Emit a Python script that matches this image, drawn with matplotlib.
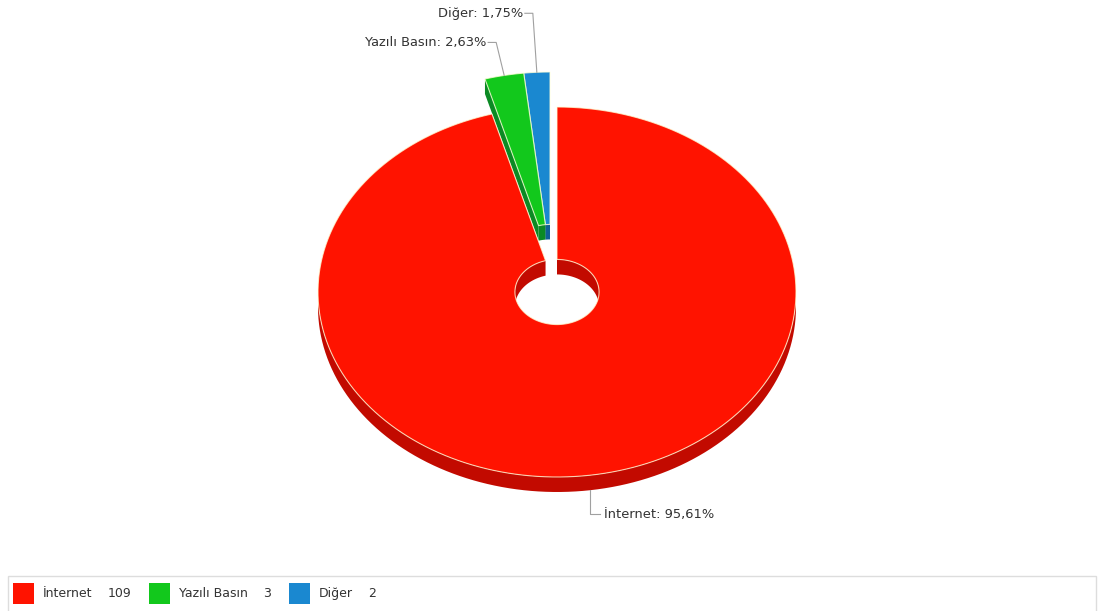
import numpy as np
import matplotlib
matplotlib.use("Agg")
import matplotlib.pyplot as plt
from matplotlib.patches import Polygon, Rectangle

# ---- data ----
categories = ['İnternet', 'Yazılı Basın', 'Diğer']
values = [109, 3, 2]
exploded = [False, True, True]
top_colors = ['#ff1300', '#12c81c', '#1a88d0']
side_colors = ['#c20a00', '#0b8a24', '#0f5f96']

# ---- style / geometry ----
W, H = 1104, 611
CX, CY = 557, 292
RX, RY = 239, 185
DEPTH = 15
INNER = 0.176
EXP_OFF = (-7, -35)

fig = plt.figure(figsize=(W / 100, H / 100), dpi=100)
ax = fig.add_axes([0, 0, 1, 1])
ax.set_xlim(0, W)
ax.set_ylim(H, 0)
ax.axis('off')

total = float(sum(values))
fracs = [v / total for v in values]


def pts(th_deg, r, off, dz=0.0):
    th = np.radians(th_deg)
    x = CX + off[0] + RX * r * np.sin(th)
    y = CY + off[1] - RY * r * np.cos(th) + dz
    return np.column_stack([np.atleast_1d(x), np.atleast_1d(y)])


def arc(a, b, r, off, dz=0.0, n=200):
    th = np.linspace(a, b, max(2, int(n * abs(b - a) / 360) + 2))
    return pts(th, r, off, dz)


def draw_slice(a, b, color, side, off):
    segs_back = []
    segs_front = []
    for lo, hi in [(-90, 90), (270, 450)]:
        s, e = max(a, lo), min(b, hi)
        if e > s:
            segs_back.append((s, e))
    for lo, hi in [(90, 270), (450, 630)]:
        s, e = max(a, lo), min(b, hi)
        if e > s:
            segs_front.append((s, e))
    # inner wall (back half of hole)
    for s, e in segs_back:
        top = arc(s, e, INNER, off)
        bot = arc(s, e, INNER, off, DEPTH)[::-1]
        ax.add_patch(Polygon(np.vstack([top, bot]), closed=True,
                             facecolor=side, edgecolor='none', zorder=1))
    # radial side faces that face the viewer
    if np.sin(np.radians(a)) < 0:
        p = np.vstack([pts(a, INNER, off), pts(a, 1, off),
                       pts(a, 1, off, DEPTH), pts(a, INNER, off, DEPTH)])
        ax.add_patch(Polygon(p, closed=True, facecolor=side,
                             edgecolor='none', zorder=1))
    if np.sin(np.radians(b)) > 0:
        p = np.vstack([pts(b, INNER, off), pts(b, 1, off),
                       pts(b, 1, off, DEPTH), pts(b, INNER, off, DEPTH)])
        ax.add_patch(Polygon(p, closed=True, facecolor=side,
                             edgecolor='none', zorder=1))
    # outer rim (front half)
    for s, e in segs_front:
        top = arc(s, e, 1, off)
        bot = arc(s, e, 1, off, DEPTH)[::-1]
        ax.add_patch(Polygon(np.vstack([top, bot]), closed=True,
                             facecolor=side, edgecolor='none', zorder=1))
    # top face
    outer = arc(a, b, 1, off)
    inner = arc(a, b, INNER, off)[::-1]
    ax.add_patch(Polygon(np.vstack([outer, inner]), closed=True,
                         facecolor=color, edgecolor=(1, 1, 0.85, 0.75),
                         linewidth=0.8, zorder=1))


# angles clockwise from 12 o'clock
starts = np.concatenate([[0], np.cumsum(fracs)[:-1]]) * 360
ends = np.cumsum(fracs) * 360

order = list(range(len(values)))[::-1]  # exploded (back) slices first
for i in order:
    off = EXP_OFF if exploded[i] else (0, 0)
    draw_slice(starts[i], ends[i], top_colors[i], side_colors[i], off)

# ---- labels ----
label_col = '#333333'
line_col = '#a0a0a0'
fs = 9.4
for i in range(len(values)):
    mid = (starts[i] + ends[i]) / 2
    off = EXP_OFF if exploded[i] else (0, 0)
    pct = f"{fracs[i] * 100:.2f}".replace('.', ',')
    txt = f"{categories[i]}: {pct}%"
    if np.cos(np.radians(mid)) < 0:
        ax_, ay_ = pts(mid, 1, off, DEPTH)[0]
        ky = ay_ + 24
        ax.plot([ax_, ax_, ax_ + 10], [ay_, ky, ky], color=line_col, lw=0.8, zorder=2)
        ax.text(ax_ + 14, ky, txt, fontsize=fs, color=label_col,
                ha='left', va='center', zorder=3)
    else:
        ax_, ay_ = pts(mid, 1, off)[0]
        ky = ay_ - (59 if i == 2 else 33)
        kx = ax_ - (4 if i == 2 else 8)
        ax.plot([ax_, kx, kx - 8], [ay_, ky, ky], color=line_col, lw=0.8, zorder=2)
        ax.text(kx - 10, ky, txt, fontsize=fs, color=label_col,
                ha='right', va='center', zorder=3)

# ---- legend ----
lfs = 9
ax.add_patch(Rectangle((8, 576), 1088, 45, facecolor='white',
                       edgecolor='#dddddd', linewidth=1, zorder=4))
x = 13
ly = 593.5
for i in range(len(values)):
    ax.add_patch(Rectangle((x, ly - 10.5), 21, 21, facecolor=top_colors[i],
                           edgecolor='none', zorder=5))
    t = ax.text(x + 30, ly, categories[i], fontsize=lfs, color=label_col,
                ha='left', va='center', zorder=5)
    fig.canvas.draw()
    bb = t.get_window_extent()
    tx = bb.x1 + 15
    t2 = ax.text(tx, ly, str(values[i]), fontsize=lfs, color=label_col,
                 ha='left', va='center', zorder=5)
    fig.canvas.draw()
    x = t2.get_window_extent().x1 + 18

fig.savefig('out.png', dpi=100)
